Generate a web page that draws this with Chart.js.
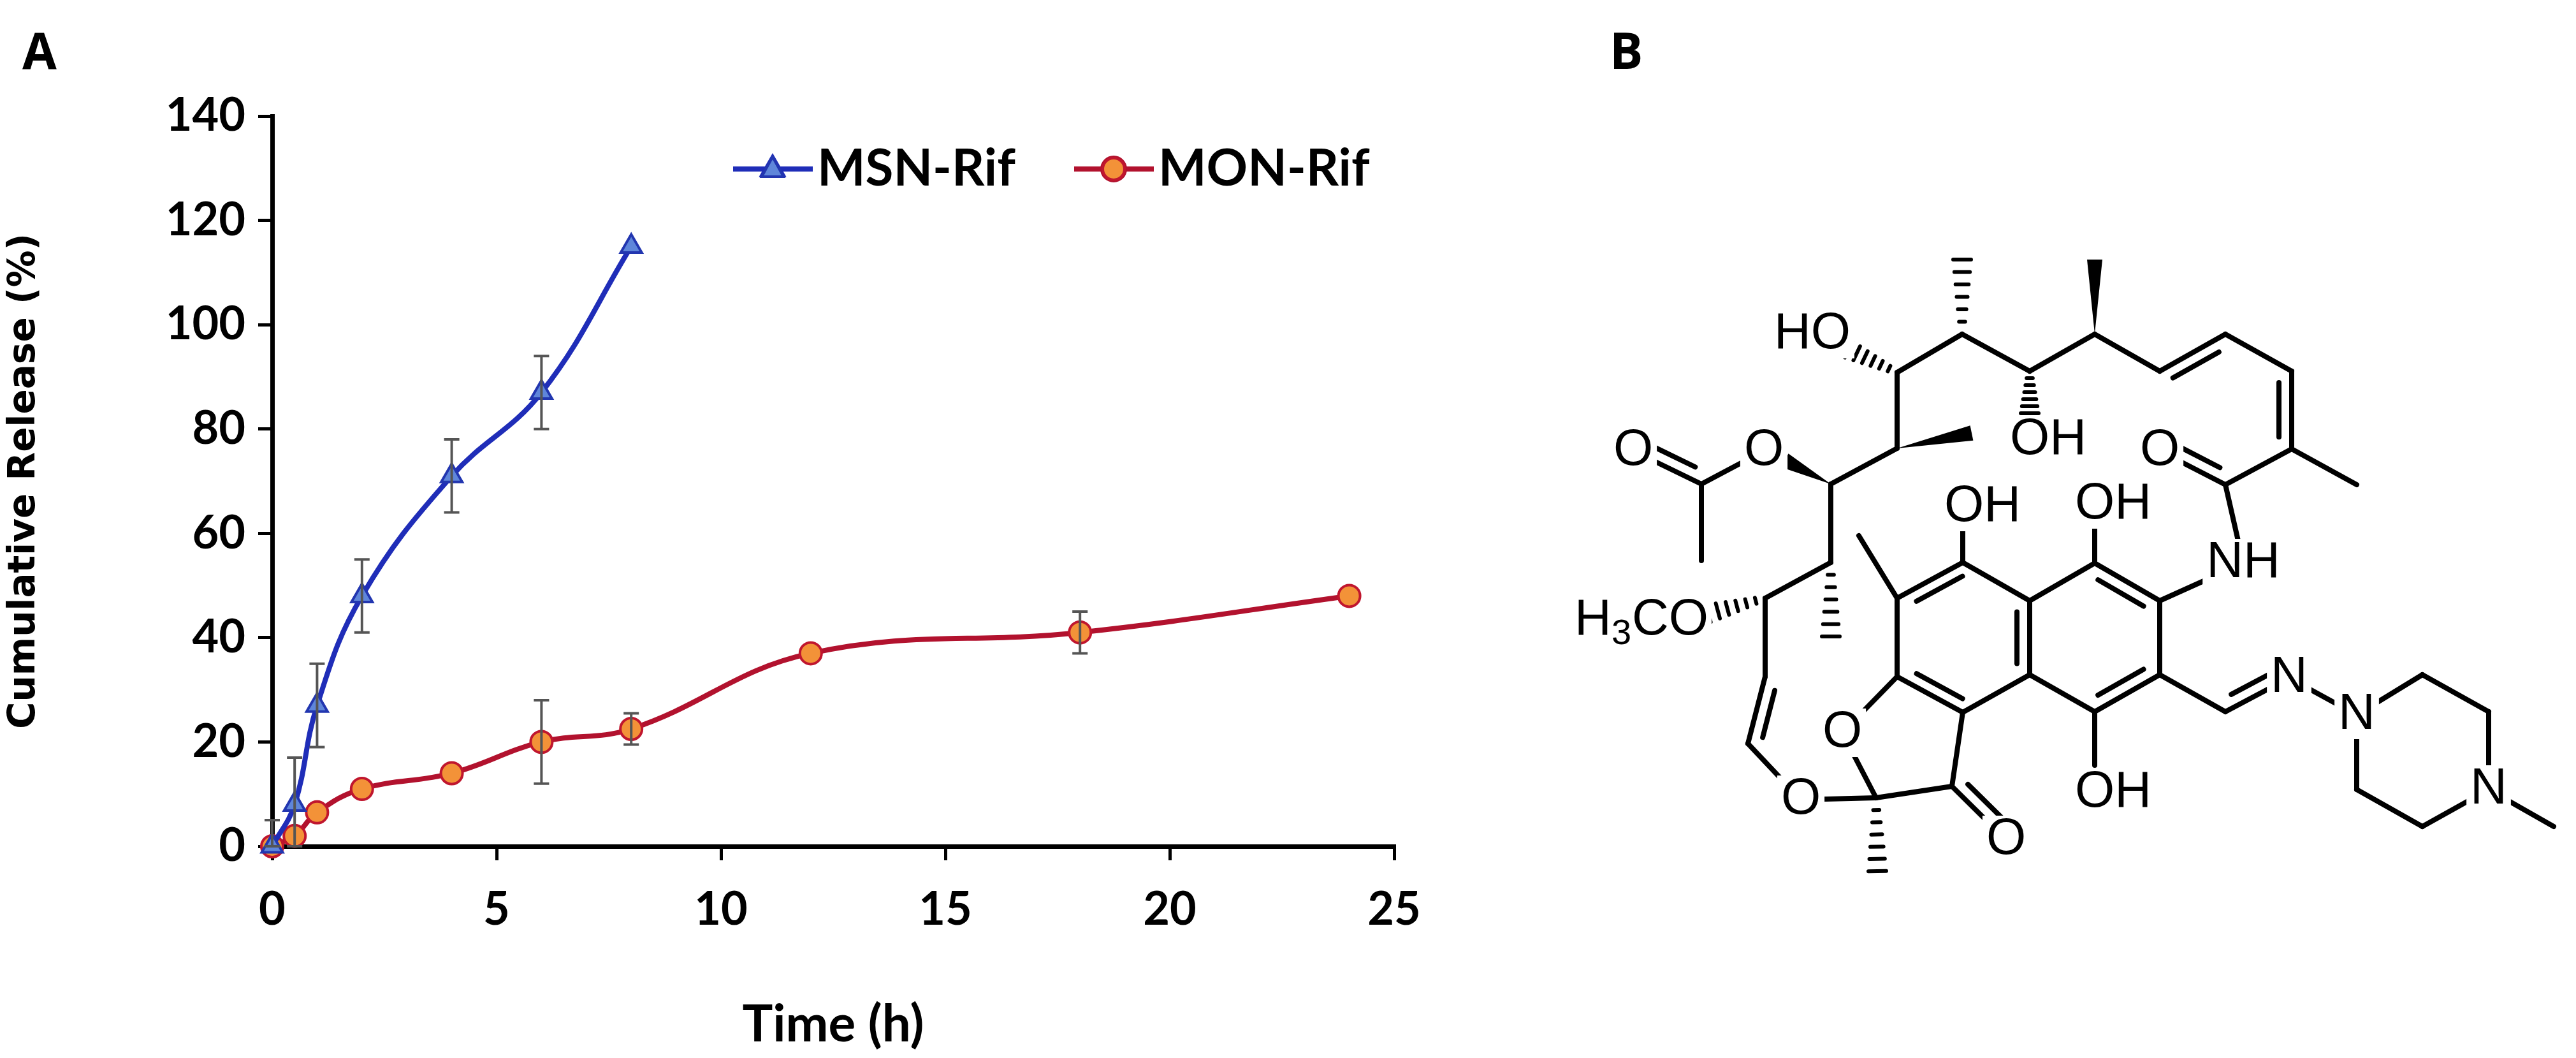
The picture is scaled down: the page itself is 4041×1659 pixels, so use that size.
<!DOCTYPE html>
<html>
<head>
<meta charset="utf-8">
<script src="https://cdn.jsdelivr.net/npm/chart.js@4.4.0/dist/chart.umd.min.js"></script>
<style>
  body { margin: 0; background: #fff; width: 4041px; height: 1659px; position: relative; overflow: hidden; }
  #chartBox { position: absolute; left: 0; top: 0; width: 2450px; height: 1659px; }
  #mol { position: absolute; left: 0; top: 0; }
  .lbl { position: absolute; font: bold 78px "Open Sans", sans-serif; }
</style>
</head>
<body>
<div id="chartBox"><canvas id="chart" width="2450" height="1659"></canvas></div>
<canvas id="mol" width="4041" height="1659"></canvas>
<div class="lbl" style="left:35px;top:25px">A</div>
<div class="lbl" style="left:2525px;top:25px">B</div>
<script>
'use strict'
// datos
const timeMSN = [0, 0.5, 1, 2, 4, 6, 8]
const releaseMSN = [0, 8, 27, 48, 71, 87, 115]
const errMSN = [5, 9, 8, 7, 7, 7, 0]
const timeMON = [0, 0.5, 1, 2, 4, 6, 8, 12, 18, 24]
const releaseMON = [0, 2, 6.5, 11, 14, 20, 22.5, 37, 41, 48]
const errMON = [0, 0, 0, 0, 0, 8, 3, 0, 4, 0]
const xTicks = [0, 5, 10, 15, 20, 25]
const yTicks = [0, 20, 40, 60, 80, 100, 120, 140]

const tickFont = { family: 'Lato', weight: 'bold', size: 72 }

// barras de error
const errorBars = {
    id: 'errorBars',
    afterDatasetsDraw(chart) {
        const ctx = chart.ctx
        const xs = chart.scales.x, ys = chart.scales.y
        ctx.save()
        ctx.strokeStyle = '#555'
        ctx.lineWidth = 4
        chart.data.datasets.forEach(ds => {
            ds.data.forEach((p, i) => {
                const e = ds.errors[i]
                if (!e) return
                const x = xs.getPixelForValue(p.x)
                const y1 = ys.getPixelForValue(Math.max(p.y - e, 0)), y2 = ys.getPixelForValue(p.y + e)
                ctx.beginPath()
                ctx.moveTo(x, y1); ctx.lineTo(x, y2)
                ctx.moveTo(x - 12, y1); ctx.lineTo(x + 12, y1)
                ctx.moveTo(x - 12, y2); ctx.lineTo(x + 12, y2)
                ctx.stroke()
            })
        })
        ctx.restore()
    }
}

// leyenda con linea y marcador
const legendLines = {
    id: 'legendLines',
    afterDraw(chart) {
        const ctx = chart.ctx
        const items = [
            { x: 1150, ds: chart.data.datasets[0], text: 'MSN-Rif' },
            { x: 1685, ds: chart.data.datasets[1], text: 'MON-Rif' }
        ]
        const y = 265
        ctx.save()
        items.forEach(it => {
            ctx.strokeStyle = it.ds.borderColor
            ctx.lineWidth = 8
            ctx.beginPath(); ctx.moveTo(it.x, y); ctx.lineTo(it.x + 125, y); ctx.stroke()
            Chart.helpers.drawPoint(ctx, {
                pointStyle: it.ds.pointStyle, radius: 17, borderWidth: 4
            }, it.x + 62, y)
            ctx.fillStyle = it.ds.pointBackgroundColor
            ctx.strokeStyle = it.ds.pointBorderColor
            ctx.lineWidth = 4
            ctx.beginPath()
            if (it.ds.pointStyle === 'circle') ctx.arc(it.x + 62, y, 17, 0, Math.PI * 2)
            else { ctx.moveTo(it.x + 62, y - 19); ctx.lineTo(it.x + 79, y + 12); ctx.lineTo(it.x + 45, y + 12); ctx.closePath() }
            ctx.fill(); ctx.stroke()
            ctx.fillStyle = '#000'
            ctx.font = 'bold 80px Lato'
            ctx.textBaseline = 'middle'
            ctx.fillText(it.text, it.x + 132, y)
        })
        ctx.restore()
    }
}

const ctx = document.getElementById('chart').getContext('2d')
new Chart(ctx, {
    type: 'line',
    data: {
        datasets: [{
            label: 'MSN-Rif',
            data: timeMSN.map((t, i) => ({ x: t, y: releaseMSN[i] })),
            errors: errMSN,
            borderColor: '#1F2DB8',
            borderWidth: 8,
            pointStyle: 'triangle',
            pointRadius: 19,
            pointBackgroundColor: '#5F86DA',
            pointBorderColor: '#2236B0',
            pointBorderWidth: 4,
            tension: 0.4
        }, {
            label: 'MON-Rif',
            data: timeMON.map((t, i) => ({ x: t, y: releaseMON[i] })),
            errors: errMON,
            borderColor: '#B2122E',
            borderWidth: 8,
            pointStyle: 'circle',
            pointRadius: 17,
            pointBackgroundColor: '#F39238',
            pointBorderColor: '#C0162E',
            pointBorderWidth: 4,
            tension: 0.4
        }]
    },
    options: {
        responsive: false,
        animation: false,
        devicePixelRatio: 1,
        clip: false,
        layout: { padding: { top: 182, right: 263, left: 0, bottom: 0 } },
        plugins: { legend: { display: false }, tooltip: { enabled: false } },
        scales: {
            x: {
                type: 'linear', min: 0, max: 25,
                afterBuildTicks: s => { s.ticks = xTicks.map(v => ({ value: v })) },
                afterFit: s => { s.height = 1659 - 1327 },
                grid: { drawOnChartArea: false, color: '#000', lineWidth: 5, tickLength: 22, offset: false },
                border: { color: '#000', width: 7 },
                ticks: { color: '#000', font: tickFont, padding: 35 },
                title: { display: true, text: 'Time (h)', color: '#000', font: { family: 'Lato', weight: 'bold', size: 80 }, padding: { top: 40 } }
            },
            y: {
                min: 0, max: 140,
                afterBuildTicks: s => { s.ticks = yTicks.map(v => ({ value: v })) },
                afterFit: s => { s.width = 427 },
                grid: { drawOnChartArea: false, color: '#000', lineWidth: 5, tickLength: 22 },
                border: { color: '#000', width: 7 },
                ticks: { color: '#000', font: tickFont, padding: 20 },
                title: { display: true, text: 'Cumulative Release (%)', color: '#000', font: { family: 'DejaVu Sans', weight: 'bold', size: 58 }, padding: { bottom: 10 } }
            }
        }
    },
    plugins: [errorBars, legendLines]
})

// estructura de rifampicina (panel B)
const m = document.getElementById('mol').getContext('2d')
m.lineWidth = 8
m.lineCap = 'round'
m.strokeStyle = '#000'
m.fillStyle = '#000'
function bond(a, b) { m.beginPath(); m.moveTo(a[0], a[1]); m.lineTo(b[0], b[1]); m.stroke() }
function dbl(a, b, c) {
    // linea interior hacia el punto c
    bond(a, b)
    const mx = (a[0] + b[0]) / 2, my = (a[1] + b[1]) / 2
    let dx = c[0] - mx, dy = c[1] - my
    const d = Math.hypot(dx, dy); dx = dx / d * 20; dy = dy / d * 20
    const sh = 0.15
    bond([a[0] + (b[0] - a[0]) * sh + dx, a[1] + (b[1] - a[1]) * sh + dy],
         [b[0] + (a[0] - b[0]) * sh + dx, b[1] + (a[1] - b[1]) * sh + dy])
}
function wedge(a, b) {
    const dx = b[0] - a[0], dy = b[1] - a[1], d = Math.hypot(dx, dy)
    const nx = -dy / d * 12, ny = dx / d * 12
    m.beginPath(); m.moveTo(a[0], a[1]); m.lineTo(b[0] + nx, b[1] + ny); m.lineTo(b[0] - nx, b[1] - ny); m.closePath(); m.fill()
}
function hash(a, b) {
    const dx = b[0] - a[0], dy = b[1] - a[1], d = Math.hypot(dx, dy)
    const nx = -dy / d, ny = dx / d
    m.save(); m.lineWidth = 6
    for (let k = 1; k <= 6; k++) {
        const t = k / 6, w = 3 + 11 * t
        const px = a[0] + dx * t, py = a[1] + dy * t
        bond([px - nx * w, py - ny * w], [px + nx * w, py + ny * w])
    }
    m.restore()
}
function label(p, txt, sub) {
    m.save()
    m.font = '80px "Liberation Sans"'
    m.textAlign = 'center'; m.textBaseline = 'middle'
    const w = m.measureText(txt).width
    m.fillStyle = '#fff'
    m.fillRect(p[0] - w / 2 - 6, p[1] - 38, w + 12, 76)
    m.fillStyle = '#000'
    m.fillText(txt, p[0], p[1])
    m.restore()
}
const A = [2976, 584], B = [3078, 524], C = [3184, 582], D = [3286, 524], E = [3388, 582]
const F = [3491, 524], G = [3595, 582], H = [3595, 704], I = [3491, 760]
const J = [2976, 703], K = [2872, 759], L = [2872, 882], M = [2769, 938], N = [2769, 1061], P = [2742, 1166]
const Oe = [2767, 707], Ac = [2669, 759], Oac = [2562, 707], Oenol = [2825, 1254]
const Q = [2943, 1251], Ck = [3062, 1233], Ok = [3147, 1317], Of = [2890, 1149]
const l0 = [3079, 882], l1 = [2976, 938], l2 = [2976, 1061], l3 = [3079, 1117]
const r0 = [3286, 883], r1 = [3388, 942], r2 = [3388, 1058], r3 = [3286, 1116], r4 = [3184, 1058], r5 = [3184, 942]
const NH = [3519, 883], CH = [3491, 1116], N1 = [3591, 1063], N2 = [3697, 1121]
const p1 = [3800, 1058], p2 = [3904, 1116], N4 = [3904, 1238], p4 = [3800, 1296], p5 = [3697, 1238]
const lc = [3130, 1000], rc = [3286, 1000]

bond(A, B); bond(B, C); bond(C, D); bond(D, E); dbl(E, F, [3480, 700]); bond(F, G); dbl(G, H, [3450, 640])
bond(H, [3697, 760]); bond(H, I); dbl(I, [3388, 707], [3470, 650]); bond(I, NH); bond(NH, r1)
hash(B, [3078, 407]); hash(C, [3184, 648]); wedge(D, [3286, 407]); hash(A, [2900, 548])
bond(A, J); wedge(J, [3093, 679]); bond(J, K); wedge(K, [2800, 722]); bond(Oe, Ac); dbl(Ac, Oac, [2640, 660]); bond(Ac, [2669, 879])
bond(K, L); hash(L, [2872, 998]); bond(L, M); hash(M, [2680, 962]); bond(M, N); dbl(N, P, [2840, 1140]); bond(P, Oenol)
bond(Oenol, Q); bond(Q, Of); bond(Of, l2); bond(Q, Ck); dbl(Ck, Ok, [3140, 1230]); bond(Ck, l3); hash(Q, [2945, 1366])
dbl(l0, l1, lc); bond(l1, l2); dbl(l2, l3, lc); bond(l3, r4); dbl(r4, r5, lc); bond(r5, l0)
bond(l1, [2916, 840]); bond(l0, [3079, 800])
dbl(r0, r1, rc); bond(r1, r2); dbl(r2, r3, rc); bond(r3, r4); bond(r5, r0)
bond(r0, [3286, 800]); bond(r3, [3286, 1200])
bond(r2, CH); dbl(CH, N1, [3520, 1020]); bond(N1, N2)
bond(N2, p1); bond(p1, p2); bond(p2, N4); bond(N4, p4); bond(p4, p5); bond(p5, N2); bond(N4, [4006, 1296])

label([2843, 524], 'HO'); label([3213, 690], 'OH'); label([3315, 791], 'OH'); label([3110, 795], 'OH')
label([3315, 1243], 'OH'); label(Oe, 'O'); label(Oac, 'O'); label(Oenol, 'O'); label(Of, 'O'); label(Ok, 'O')
label([3388, 707], 'O'); label(NH, 'NH'); label(N1, 'N'); label(N2, 'N'); label(N4, 'N')
// H3CO con subindice
m.save()
m.font = '80px "Liberation Sans"'; m.textBaseline = 'middle'
m.fillStyle = '#fff'; m.fillRect(2465, 930, 220, 90); m.fillStyle = '#000'
m.fillText('H', 2470, 973); m.font = '56px "Liberation Sans"'; m.fillText('3', 2528, 995)
m.font = '80px "Liberation Sans"'; m.fillText('CO', 2560, 973)
m.restore()
</script>
</body>
</html>
